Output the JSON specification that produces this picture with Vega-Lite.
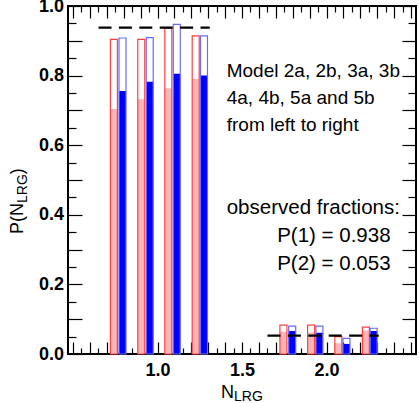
{
  "$schema": "https://vega.github.io/schema/vega-lite/v6.json",
  "width": 348,
  "height": 348,
  "autosize": {"type": "none"},
  "padding": {"left": 68, "top": 6, "right": 3, "bottom": 49},
  "background": "white",
  "config": {
    "view": {"stroke": "black", "strokeWidth": 2},
    "axis": {"domain": false, "grid": false, "tickColor": "black", "tickWidth": 1.2, "labelFont": "Liberation Sans", "labelFontWeight": "bold", "labelFontSize": 18, "labelColor": "black", "labelOverlap": false, "labelFlush": false, "labelBound": false},
    "text": {"font": "Liberation Sans", "color": "black"}
  },
  "datasets": {
    "bars": [
      {"model": "2a", "variant": "a", "n": 1, "pos": 0.742, "p_all": 0.904, "p_sub": 0.704},
      {"model": "2b", "variant": "b", "n": 1, "pos": 0.793, "p_all": 0.908, "p_sub": 0.756},
      {"model": "3a", "variant": "a", "n": 1, "pos": 0.904, "p_all": 0.904, "p_sub": 0.732},
      {"model": "3b", "variant": "b", "n": 1, "pos": 0.954, "p_all": 0.909, "p_sub": 0.782},
      {"model": "4a", "variant": "a", "n": 1, "pos": 1.064, "p_all": 0.936, "p_sub": 0.764},
      {"model": "4b", "variant": "b", "n": 1, "pos": 1.114, "p_all": 0.947, "p_sub": 0.805},
      {"model": "5a", "variant": "a", "n": 1, "pos": 1.226, "p_all": 0.914, "p_sub": 0.790},
      {"model": "5b", "variant": "b", "n": 1, "pos": 1.275, "p_all": 0.914, "p_sub": 0.800},
      {"model": "2a", "variant": "a", "n": 2, "pos": 1.745, "p_all": 0.083, "p_sub": 0.064},
      {"model": "2b", "variant": "b", "n": 2, "pos": 1.797, "p_all": 0.080, "p_sub": 0.066},
      {"model": "3a", "variant": "a", "n": 2, "pos": 1.909, "p_all": 0.083, "p_sub": 0.061},
      {"model": "3b", "variant": "b", "n": 2, "pos": 1.958, "p_all": 0.080, "p_sub": 0.061},
      {"model": "4a", "variant": "a", "n": 2, "pos": 2.070, "p_all": 0.050, "p_sub": 0.031},
      {"model": "4b", "variant": "b", "n": 2, "pos": 2.118, "p_all": 0.045, "p_sub": 0.029},
      {"model": "5a", "variant": "a", "n": 2, "pos": 2.233, "p_all": 0.077, "p_sub": 0.067},
      {"model": "5b", "variant": "b", "n": 2, "pos": 2.279, "p_all": 0.074, "p_sub": 0.066}
    ],
    "obs": [
      {"n": 1, "lo": 0.651, "hi": 1.309, "p": 0.938},
      {"n": 2, "lo": 1.651, "hi": 2.309, "p": 0.053}
    ]
  },
  "resolve": {"axis": {"x": "independent", "y": "independent"}},
  "layer": [
    {
      "data": {"name": "bars"},
      "mark": {"type": "bar", "size": 7, "strokeWidth": 0},
      "encoding": {
        "x": {"field": "pos", "type": "quantitative", "scale": {"domain": [0.5, 2.5], "nice": false, "zero": false},
          "axis": {"orient": "bottom", "title": null,
            "values": [0.5,0.55,0.6,0.65,0.7,0.75,0.8,0.85,0.9,0.95,1.0,1.05,1.1,1.15,1.2,1.25,1.3,1.35,1.4,1.45,1.5,1.55,1.6,1.65,1.7,1.75,1.8,1.85,1.9,1.95,2.0,2.05,2.1,2.15,2.2,2.25,2.3,2.35,2.4,2.45,2.5],
            "tickSize": {"condition": {"test": "abs(datum.value*10 - round(datum.value*10)) < 0.001", "value": -12}, "value": -6},
            "labelPadding": 19.7,
            "labelExpr": "abs(datum.value-1)<0.001 || abs(datum.value-1.5)<0.001 || abs(datum.value-2)<0.001 ? format(datum.value, '.1f') : ''"}},
        "y": {"field": "p_sub", "type": "quantitative", "scale": {"domain": [0, 1], "nice": false},
          "axis": {"orient": "left", "title": null,
            "values": [0,0.05,0.1,0.15,0.2,0.25,0.3,0.35,0.4,0.45,0.5,0.55,0.6,0.65,0.7,0.75,0.8,0.85,0.9,0.95,1.0],
            "tickSize": {"condition": {"test": "abs(datum.value*10 - round(datum.value*10)) < 0.001", "value": -14}, "value": -8},
            "labelPadding": 18.5,
            "labelExpr": "abs(datum.value*5 - round(datum.value*5)) < 0.001 ? format(datum.value, '.1f') : ''"}},
        "fill": {"field": "variant", "type": "nominal", "scale": {"domain": ["a", "b"], "range": ["#f8b6b6", "#0000ff"]}, "legend": null}
      }
    },
    {
      "data": {"name": "bars"},
      "mark": {"type": "bar", "size": 7, "filled": false, "strokeWidth": 1.2},
      "encoding": {
        "x": {"field": "pos", "type": "quantitative", "axis": null},
        "y": {"field": "p_all", "type": "quantitative", "axis": null},
        "color": {"field": "variant", "type": "nominal", "scale": {"domain": ["a", "b"], "range": ["#ff4040", "#6a6aff"]}, "legend": null}
      }
    },
    {
      "data": {"name": "obs"},
      "mark": {"type": "rule", "color": "black", "strokeWidth": 2.2, "strokeDash": [13, 7.4]},
      "encoding": {
        "x": {"field": "lo", "type": "quantitative",
          "axis": {"orient": "top", "title": null, "labels": false,
            "values": [0.5,0.55,0.6,0.65,0.7,0.75,0.8,0.85,0.9,0.95,1.0,1.05,1.1,1.15,1.2,1.25,1.3,1.35,1.4,1.45,1.5,1.55,1.6,1.65,1.7,1.75,1.8,1.85,1.9,1.95,2.0,2.05,2.1,2.15,2.2,2.25,2.3,2.35,2.4,2.45,2.5],
            "tickSize": {"condition": {"test": "abs(datum.value*10 - round(datum.value*10)) < 0.001", "value": -12}, "value": -6}}},
        "x2": {"field": "hi"},
        "y": {"field": "p", "type": "quantitative",
          "axis": {"orient": "right", "title": null, "labels": false,
            "values": [0,0.05,0.1,0.15,0.2,0.25,0.3,0.35,0.4,0.45,0.5,0.55,0.6,0.65,0.7,0.75,0.8,0.85,0.9,0.95,1.0],
            "tickSize": {"condition": {"test": "abs(datum.value*10 - round(datum.value*10)) < 0.001", "value": -14}, "value": -8}}}
      }
    },
    {
      "data": {"values": [{}]},
      "mark": {"type": "text", "text": ["Model 2a, 2b, 3a, 3b", "4a, 4b, 5a and 5b", "from left to right"], "align": "left", "baseline": "alphabetic", "fontSize": 19, "lineHeight": 27},
      "encoding": {"x": {"datum": 1.4096, "type": "quantitative", "axis": null}, "y": {"datum": 0.796, "type": "quantitative", "axis": null}}
    },
    {
      "data": {"values": [{}]},
      "mark": {"type": "text", "text": "observed fractions:", "align": "left", "baseline": "alphabetic", "fontSize": 20.5},
      "encoding": {"x": {"datum": 1.4096, "type": "quantitative", "axis": null}, "y": {"datum": 0.401, "type": "quantitative", "axis": null}}
    },
    {
      "data": {"values": [{}]},
      "mark": {"type": "text", "text": ["P(1) = 0.938", "P(2) = 0.053"], "align": "left", "baseline": "alphabetic", "fontSize": 20.5, "lineHeight": 28},
      "encoding": {"x": {"datum": 1.708, "type": "quantitative", "axis": null}, "y": {"datum": 0.321, "type": "quantitative", "axis": null}}
    },
    {
      "data": {"values": [{}]},
      "mark": {"type": "text", "text": "N", "align": "right", "baseline": "alphabetic", "fontSize": 18},
      "encoding": {"x": {"datum": 1.4527, "type": "quantitative", "axis": null}, "y": {"datum": -0.1264, "type": "quantitative", "axis": null}}
    },
    {
      "data": {"values": [{}]},
      "mark": {"type": "text", "text": "LRG", "align": "left", "baseline": "alphabetic", "fontSize": 14, "dy": 3.5},
      "encoding": {"x": {"datum": 1.4527, "type": "quantitative", "axis": null}, "y": {"datum": -0.1264, "type": "quantitative", "axis": null}}
    },
    {
      "data": {"values": [{}]},
      "mark": {"type": "text", "text": "P(N", "angle": 270, "align": "right", "baseline": "alphabetic", "fontSize": 18},
      "encoding": {"x": {"datum": 0.2045, "type": "quantitative", "axis": null}, "y": {"datum": 0.434, "type": "quantitative", "axis": null}}
    },
    {
      "data": {"values": [{}]},
      "mark": {"type": "text", "text": "LRG", "angle": 270, "align": "left", "baseline": "alphabetic", "fontSize": 14, "dy": 4},
      "encoding": {"x": {"datum": 0.2045, "type": "quantitative", "axis": null}, "y": {"datum": 0.434, "type": "quantitative", "axis": null}}
    },
    {
      "data": {"values": [{}]},
      "mark": {"type": "text", "text": ")", "angle": 270, "align": "left", "baseline": "alphabetic", "fontSize": 18, "dx": 28.8},
      "encoding": {"x": {"datum": 0.2045, "type": "quantitative", "axis": null}, "y": {"datum": 0.434, "type": "quantitative", "axis": null}}
    }
  ]
}
